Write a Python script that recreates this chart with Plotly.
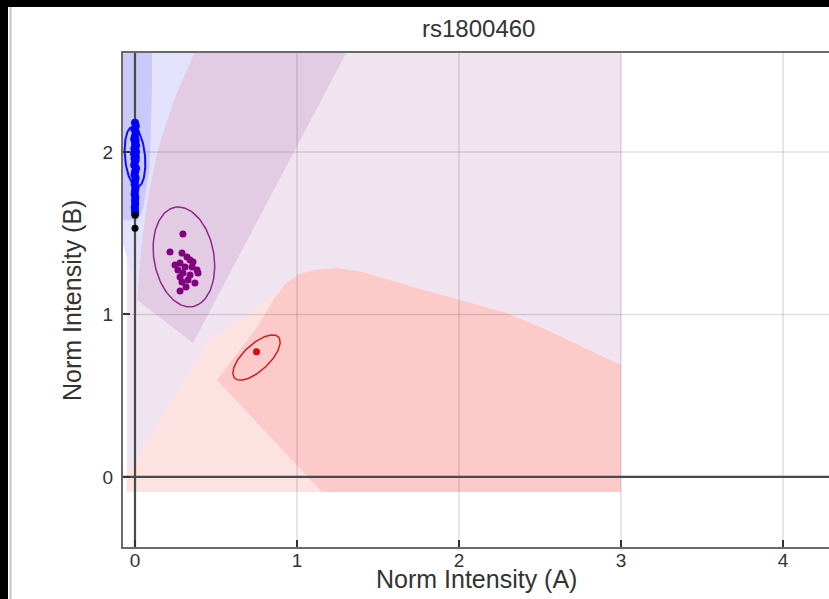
import numpy as np
import plotly.graph_objects as go

# ---- cluster points (Norm Intensity A, Norm Intensity B) ----
bb_x = [0.000, 0.005, -0.004, 0.006, 0.000, -0.005, 0.004, 0.000, 0.007, -0.004,
        0.002, 0.006, -0.006, 0.000, 0.005, -0.003, 0.004, 0.000, -0.005, 0.006,
        0.001, -0.003, 0.004, 0.000, -0.002, 0.003, 0.000, -0.002, 0.002, 0.000,
        0.001, -0.001, 0.000, 0.001]
bb_y = [2.18, 2.16, 2.14, 2.12, 2.10, 2.08, 2.07, 2.05, 2.04, 2.02,
        2.01, 2.00, 1.99, 1.98, 1.97, 1.96, 1.95, 1.94, 1.92, 1.90,
        1.88, 1.86, 1.84, 1.82, 1.80, 1.78, 1.76, 1.74, 1.72, 1.70,
        1.68, 1.66, 1.64, 1.62]

ab_x = [0.296, 0.216, 0.290, 0.321, 0.340, 0.278, 0.309, 0.352, 0.383, 0.265,
        0.296, 0.340, 0.389, 0.278, 0.327, 0.370, 0.290, 0.278, 0.247, 0.358,
        0.315]
ab_y = [1.495, 1.385, 1.378, 1.354, 1.335, 1.317, 1.292, 1.292, 1.274, 1.274,
        1.255, 1.243, 1.255, 1.231, 1.212, 1.194, 1.200, 1.145, 1.305, 1.323,
        1.169]

aa_x = [0.75]
aa_y = [0.77]

nc_x = [0.0, 0.0]
nc_y = [1.61, 1.53]

# ---- cluster ellipses: centre x, centre y, semi-major, semi-minor, angle (deg) ----
bb_ell = (0.0, 1.97, 0.185, 0.062, 95)
ab_ell = (0.302, 1.354, 0.31, 0.185, 100)
aa_ell = (0.75, 0.735, 0.185, 0.08, 43)

# ---- genotype call regions (polygon outlines) ----
lav_x = [-0.05, 3.0, 3.0, -0.05]
lav_y = [-0.092, -0.092, 2.62, 2.62]

ltblue_x = [-0.08, 0.37, 0.24, 0.14, 0.078, 0.036, 0.015, 0.0, -0.08]
ltblue_y = [2.62, 2.62, 2.32, 2.012, 1.705, 1.397, 1.15, 1.2, 1.45]

blue_x = [-0.08, 0.105, 0.105, 0.09, 0.05, 0.02, -0.08]
blue_y = [2.62, 2.62, 2.4, 1.9, 1.65, 1.58, 1.58]

wedge_x = [0.37, 0.24, 0.14, 0.078, 0.036, 0.015, 0.012, 0.358, 1.31]
wedge_y = [2.62, 2.32, 2.012, 1.705, 1.397, 1.15, 1.09, 0.825, 2.62]

ltpink_x = [-0.049, 3.0, 3.0, 2.543, 2.296, 2.006, 1.716, 1.407, 1.247, 1.099,
            1.0, 0.9, 0.78, 0.62, 0.457, 0.216, -0.049]
ltpink_y = [-0.092, -0.092, 0.689, 0.905, 1.009, 1.089, 1.169, 1.262, 1.286, 1.274,
            1.243, 1.17, 1.06, 0.95, 0.843, 0.455, 0.025]

pink_x = [0.506, 0.76, 0.86, 0.93, 1.0, 1.099, 1.247, 1.407, 1.716, 2.006,
          2.296, 2.543, 3.0, 3.0, 1.154]
pink_y = [0.597, 0.93, 1.10, 1.19, 1.243, 1.274, 1.286, 1.262, 1.169, 1.089,
          1.009, 0.905, 0.689, -0.092, -0.092]

# ---- axes ----
x_range = [-0.0741, 4.284]
y_range = [-0.431, 2.609]
x_ticks = [0, 1, 2, 3, 4]
y_ticks = [0, 1, 2]


def ellipse(cx, cy, a, b, ang):
    t = np.linspace(0, 2 * np.pi, 120)
    th = np.radians(ang)
    ex = cx + a * np.cos(t) * np.cos(th) - b * np.sin(t) * np.sin(th)
    ey = cy + a * np.cos(t) * np.sin(th) + b * np.sin(t) * np.cos(th)
    return ex, ey


fig = go.Figure()


def region(xs, ys, color):
    fig.add_trace(go.Scatter(x=xs, y=ys, mode="lines", fill="toself",
                             fillcolor=color, line=dict(width=0),
                             hoverinfo="skip", showlegend=False))


region(lav_x, lav_y, "#f0e4f1")
region(ltblue_x, ltblue_y, "#e2e2fd")
region(blue_x, blue_y, "#c9c9fb")
region(wedge_x, wedge_y, "#e3cce3")
region(ltpink_x, ltpink_y, "#fde2e2")
region(pink_x, pink_y, "#fdcaca")

# grid lines over the shaded regions
for xv in x_ticks[1:]:
    fig.add_trace(go.Scatter(x=[xv, xv], y=y_range, mode="lines",
                             line=dict(color="rgba(0,0,0,0.12)", width=1.6),
                             hoverinfo="skip", showlegend=False))
for yv in y_ticks[1:]:
    fig.add_trace(go.Scatter(x=x_range, y=[yv, yv], mode="lines",
                             line=dict(color="rgba(0,0,0,0.12)", width=1.6),
                             hoverinfo="skip", showlegend=False))

# zero lines
fig.add_trace(go.Scatter(x=[0, 0], y=y_range, mode="lines",
                         line=dict(color="#4a4a4a", width=2.2),
                         hoverinfo="skip", showlegend=False))
fig.add_trace(go.Scatter(x=x_range, y=[0, 0], mode="lines",
                         line=dict(color="#4a4a4a", width=2.2),
                         hoverinfo="skip", showlegend=False))

# ellipses
for params, col, w in [(bb_ell, "#1010ff", 2), (ab_ell, "#8a2a8a", 1.5),
                       (aa_ell, "#cc2020", 1.5)]:
    ex, ey = ellipse(*params)
    fig.add_trace(go.Scatter(x=ex, y=ey, mode="lines",
                             line=dict(color=col, width=w),
                             hoverinfo="skip", showlegend=False))

# points
fig.add_trace(go.Scatter(x=bb_x, y=bb_y, mode="markers",
                         marker=dict(color="#0000ff", size=8), showlegend=False))
fig.add_trace(go.Scatter(x=nc_x, y=nc_y, mode="markers",
                         marker=dict(color="#000000", size=7), showlegend=False))
fig.add_trace(go.Scatter(x=ab_x, y=ab_y, mode="markers",
                         marker=dict(color="#800080", size=7), showlegend=False))
fig.add_trace(go.Scatter(x=aa_x, y=aa_y, mode="markers",
                         marker=dict(color="#e00010", size=7), showlegend=False))

W, H = 829, 599
L, R, T, B = 123, 0, 53, 52
pw, ph = W - L - R, H - T - B


def px(xp):
    return (xp - L) / pw


def py(yp):
    return (H - B - yp) / ph


font = "Liberation Sans, Arial, sans-serif"

fig.update_layout(
    width=W, height=H,
    margin=dict(l=L, r=R, t=T, b=B),
    paper_bgcolor="white", plot_bgcolor="white",
    showlegend=False,
    xaxis=dict(range=x_range, tickvals=x_ticks, showgrid=False, zeroline=False,
               showline=True, linecolor="#6a6a6a", linewidth=2, mirror=True,
               ticks="inside", ticklen=7, tickwidth=2, tickcolor="#333333",
               tickfont=dict(family=font, size=19, color="#333333"),
               ticklabelstandoff=-5),
    yaxis=dict(range=y_range, tickvals=y_ticks, showgrid=False, zeroline=False,
               showline=True, linecolor="#6a6a6a", linewidth=2,
               ticks="inside", ticklen=7, tickwidth=2, tickcolor="#333333",
               tickfont=dict(family=font, size=19, color="#333333"),
               ticklabelstandoff=4),
    annotations=[
        dict(text="rs1800460", x=px(478), y=py(29), xref="paper", yref="paper",
             xanchor="center", yanchor="middle", showarrow=False,
             font=dict(family=font, size=24, color="#333333")),
        dict(text="Norm Intensity (A)", x=px(476), y=py(579), xref="paper",
             yref="paper", xanchor="center", yanchor="middle", showarrow=False,
             font=dict(family=font, size=25, color="#333333")),
        dict(text="Norm Intensity (B)", x=px(72), y=py(301), xref="paper",
             yref="paper", xanchor="center", yanchor="middle", showarrow=False,
             textangle=-90,
             font=dict(family=font, size=25, color="#333333")),
    ],
    shapes=[
        dict(type="rect", xref="paper", yref="paper", x0=px(0), x1=px(W),
             y0=py(7), y1=py(0), fillcolor="black", line=dict(width=0)),
        dict(type="rect", xref="paper", yref="paper", x0=px(0), x1=px(8),
             y0=py(H), y1=py(0), fillcolor="black", line=dict(width=0)),
        dict(type="line", xref="paper", yref="paper", x0=px(10.5), x1=px(10.5),
             y0=py(H), y1=py(7), line=dict(color="#c4c4c4", width=2)),
    ],
)

fig.write_html("out.html")
